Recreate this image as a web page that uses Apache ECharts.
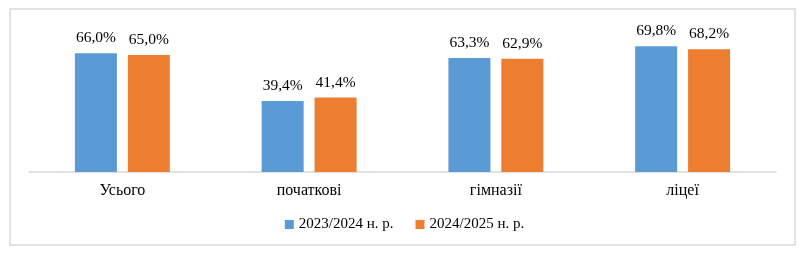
<!DOCTYPE html>
<html>
<head>
<meta charset="utf-8">
<script src="https://cdn.jsdelivr.net/npm/echarts@6/dist/echarts.min.js"></script>
<style>
  html, body { margin: 0; padding: 0; background: #fff; }
  #main { width: 809px; height: 254px; }
</style>
</head>
<body>
<div id="main"></div>
<script>
// categories and values
var categories = ['Усього', 'початкові', 'гімназії', 'ліцеї'];
var seriesNames = ['2023/2024 н. р.', '2024/2025 н. р.'];
var values2023 = [66.0, 39.4, 63.3, 69.8];
var values2024 = [65.0, 41.4, 62.9, 68.2];

var chart = echarts.init(document.getElementById('main'));

var font = '"Liberation Serif", "Times New Roman", serif';

function pct(p) {
  return p.value.toFixed(1).replace('.', ',') + '%';
}

var option = {
  animation: false,
  color: ['#5B9BD5', '#ED7D31'],
  graphic: [{
    type: 'rect',
    shape: { x: 10, y: 9, width: 785, height: 236 },
    style: { fill: 'none', stroke: '#d9d9d9', lineWidth: 1.5 }
  }],
  grid: {
    left: 29,
    right: 33,
    top: 28,
    bottom: 82
  },
  legend: {
    bottom: 17,
    left: 'center',
    itemWidth: 9,
    itemHeight: 9,
    itemGap: 22,
    icon: 'rect',
    textStyle: { fontFamily: font, fontSize: 15, color: '#000' },
    data: seriesNames
  },
  xAxis: {
    type: 'category',
    data: categories,
    axisLine: { lineStyle: { color: '#d9d9d9', width: 1.5 } },
    axisTick: { show: false },
    axisLabel: { fontFamily: font, fontSize: 16, color: '#000', margin: 11 }
  },
  yAxis: {
    type: 'value',
    min: 0,
    max: 80,
    show: false,
    splitLine: { show: false }
  },
  series: [{
    name: seriesNames[0],
    type: 'bar',
    barWidth: 42,
    barGap: '26%',
    data: values2023,
    label: {
      show: true,
      position: 'top',
      distance: 7,
      formatter: pct,
      fontFamily: font,
      fontSize: 15.5,
      color: '#000'
    }
  }, {
    name: seriesNames[1],
    type: 'bar',
    barWidth: 42,
    barGap: '26%',
    data: values2024,
    label: {
      show: true,
      position: 'top',
      distance: 7,
      formatter: pct,
      fontFamily: font,
      fontSize: 15.5,
      color: '#000'
    }
  }]
};

chart.setOption(option);
</script>
</body>
</html>
